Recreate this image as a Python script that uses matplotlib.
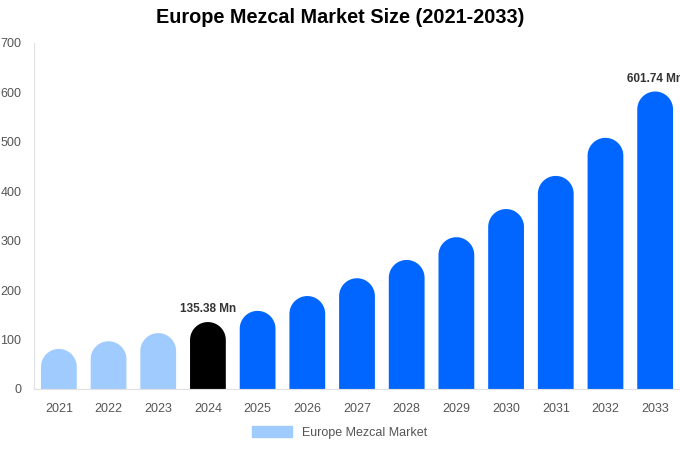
import matplotlib
matplotlib.use('Agg')
import matplotlib.pyplot as plt
import numpy as np
from matplotlib.patches import Polygon, Patch

plt.rcParams['font.family'] = ['Liberation Sans', 'DejaVu Sans']

# data
years = ['2021', '2022', '2023', '2024', '2025', '2026', '2027',
         '2028', '2029', '2030', '2031', '2032', '2033']
values = [81, 96.5, 113, 135.38, 158, 188, 224, 261, 307, 364, 431, 508, 601.74]
colors = ['#a0cbff'] * 3 + ['#000000'] + ['#0066ff'] * 9
labels = {3: '135.38 Mn', 12: '601.74 Mn'}

fig = plt.figure(figsize=(6.8, 4.5), dpi=100)
ax = fig.add_axes([0.05, 0.1356, 0.95, 0.769])
ax.set_xlim(-0.5, len(years) - 0.5)
ax.set_ylim(0, 700)

w = 0.72
# radius of the rounded cap in data units (half bar width in pixels)
px_per_x = ax.transData.transform((1, 0))[0] - ax.transData.transform((0, 0))[0]
px_per_y = ax.transData.transform((0, 1))[1] - ax.transData.transform((0, 0))[1]
ry = (w / 2) * px_per_x / px_per_y
t = np.linspace(0, np.pi, 60)

for i, v in enumerate(values):
    body = v - ry
    # one outline: straight sides plus a half-circle cap
    xs = np.concatenate([[i + w / 2], i + (w / 2) * np.cos(t), [i - w / 2]])
    ys = np.concatenate([[0], body + ry * np.sin(t), [0]])
    ax.add_patch(Polygon(np.column_stack([xs, ys]), closed=True,
                         facecolor=colors[i], lw=0))
    if i in labels:
        ax.text(i, v + 14, labels[i], ha='center', va='bottom',
                fontsize=8.5, fontweight='bold', color='#333333')

ax.set_xticks(range(len(years)))
ax.set_xticklabels(years)
ax.set_yticks(range(0, 701, 100))
ax.tick_params(length=0, labelsize=9, colors='#555555')
ax.tick_params(axis='x', pad=10)
ax.tick_params(axis='y', pad=9)
for s in ['top', 'right']:
    ax.spines[s].set_visible(False)
ax.spines['left'].set_color('#e0e0e0')
ax.spines['bottom'].set_color('#e0e0e0')

fig.suptitle('Europe Mezcal Market Size (2021-2033)', fontsize=14.3,
             fontweight='bold', y=0.983)

fig.legend(handles=[Patch(color='#a0cbff', label='Europe Mezcal Market')],
           loc='lower center', bbox_to_anchor=(0.5, 0.0), frameon=False,
           fontsize=9, labelcolor='#555555', handlelength=3.2, handleheight=0.9)

fig.savefig('out.png', dpi=100)
